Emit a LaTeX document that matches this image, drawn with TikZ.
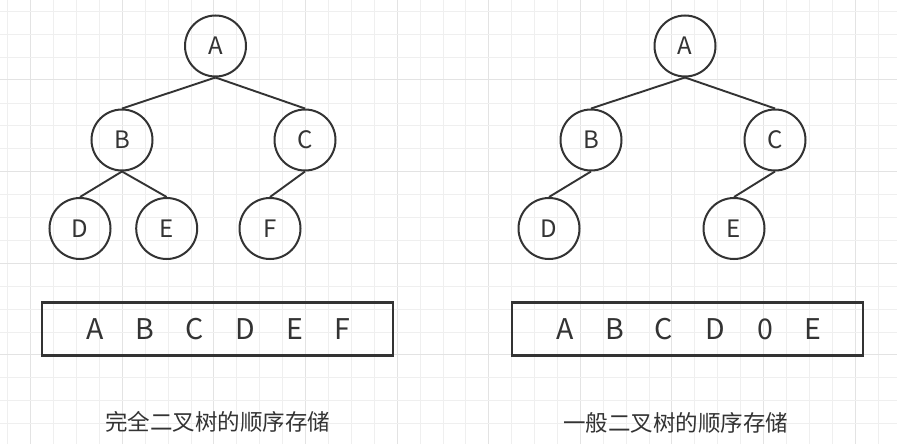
\documentclass[tikz,border=0pt]{standalone}
\usepackage{fontspec}
\setmainfont{Noto Sans CJK SC}
\usepackage{xcolor}
\usepackage{tikz}

\definecolor{ink}{HTML}{333333}
\definecolor{gridminor}{HTML}{EFEFEF}
\definecolor{gridmajor}{HTML}{E3E3E3}

\tikzset{
  treenode/.style={circle, draw=ink, line width=2pt, minimum size=61pt, inner sep=0pt,
                   text=ink, font=\fontsize{24}{26}\selectfont},
  treeedge/.style={draw=ink, line width=1.9pt},
  arraybox/.style={draw=ink, line width=2.4pt, minimum width=351pt, minimum height=53pt, inner sep=0pt},
  cell/.style={text=ink, font=\fontsize{28.5}{30}\selectfont},
  caption/.style={text=ink, font=\fontsize{22.5}{24}\selectfont}
}

\begin{document}
\begin{tikzpicture}[x=1pt, y=-1pt]
  \useasboundingbox (0,0) rectangle (897,444);
  \clip (0,0) rectangle (897,444);
  \fill[white] (0,0) rectangle (897,444);

  % background grid
  \foreach \i in {-2,...,38} {
    \pgfmathtruncatemacro{\m}{mod(\i+8,4)}
    \ifnum\m=0
      \draw[gridmajor, line width=1pt] ({30.7+\i*22.9},0) -- ({30.7+\i*22.9},444);
    \else
      \draw[gridminor, line width=0.8pt] ({30.7+\i*22.9},0) -- ({30.7+\i*22.9},444);
    \fi
  }
  \foreach \j in {-4,...,16} {
    \pgfmathtruncatemacro{\m}{mod(\j+8,4)}
    \ifnum\m=0
      \draw[gridmajor, line width=1pt] (0,{80+\j*22.9}) -- (897,{80+\j*22.9});
    \else
      \draw[gridminor, line width=0.8pt] (0,{80+\j*22.9}) -- (897,{80+\j*22.9});
    \fi
  }

  % complete binary tree
  \node[treenode] (lA) at (215.5,46)  {A};
  \node[treenode] (lB) at (122,140)   {B};
  \node[treenode] (lC) at (305,140)   {C};
  \node[treenode] (lD) at (80,228.5)  {D};
  \node[treenode] (lE) at (166.7,228.5) {E};
  \node[treenode] (lF) at (270,228.5) {F};
  \draw[treeedge] (lA.south) -- (lB.north);
  \draw[treeedge] (lA.south) -- (lC.north);
  \draw[treeedge] (lB.south) -- (lD.north);
  \draw[treeedge] (lB.south) -- (lE.north);
  \draw[treeedge] (lC.south) -- (lF.north);

  % general binary tree
  \node[treenode] (rA) at (685,46)    {A};
  \node[treenode] (rB) at (591,140)   {B};
  \node[treenode] (rC) at (775,140)   {C};
  \node[treenode] (rD) at (549,228.5) {D};
  \node[treenode] (rE) at (734,228.5) {E};
  \draw[treeedge] (rA.south) -- (rB.north);
  \draw[treeedge] (rA.south) -- (rC.north);
  \draw[treeedge] (rB.south) -- (rD.north);
  \draw[treeedge] (rC.south) -- (rE.north);

  % sequential storage
  \node[arraybox] (lbox) at (217.5,329) {};
  \node[cell] (lc1) at (95,329)  {A};
  \node[cell] (lc2) at (145,329) {B};
  \node[cell] (lc3) at (195,329) {C};
  \node[cell] (lc4) at (245,329) {D};
  \node[cell] (lc5) at (295,329) {E};
  \node[cell] (lc6) at (342,329) {F};

  \node[arraybox] (rbox) at (687.5,329) {};
  \node[cell] (rc1) at (565,329) {A};
  \node[cell] (rc2) at (615,329) {B};
  \node[cell] (rc3) at (664,329) {C};
  \node[cell] (rc4) at (715,329) {D};
  \node[cell] (rc5) at (765,329) {0};
  \node[cell] (rc6) at (813,329) {E};

  % captions
  \node[caption] (lcap) at (217.5,422) {完全二叉树的顺序存储};
  \node[caption] (rcap) at (675.5,423) {一般二叉树的顺序存储};
\end{tikzpicture}
\end{document}
